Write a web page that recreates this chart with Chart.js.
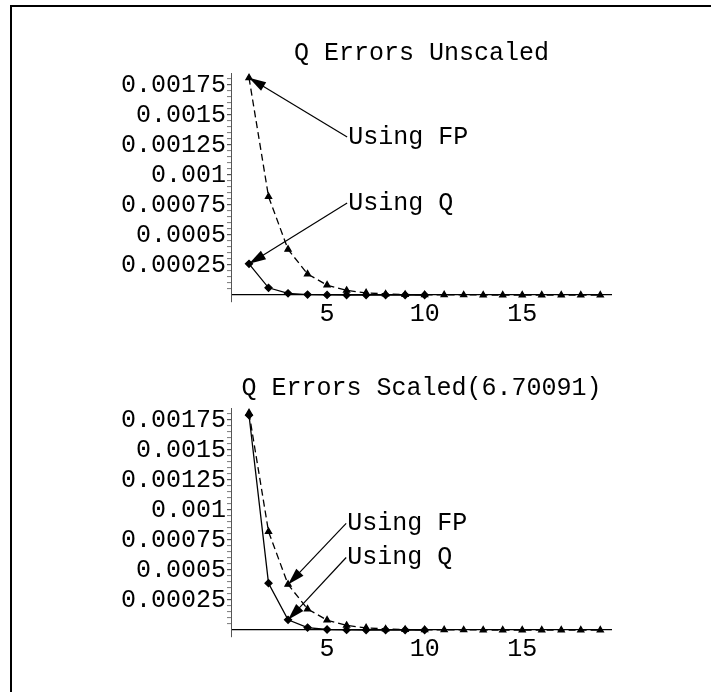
<!DOCTYPE html>
<html>
<head>
<meta charset="utf-8">
<script src="https://cdn.jsdelivr.net/npm/chart.js@4"></script>
<style>
  body { margin: 0; background: #fff; }
  #page { position: relative; width: 711px; height: 692px; overflow: hidden; background: #fff; }
  #frame { position: absolute; left: 10px; top: 5px; right: -10px; bottom: -10px;
           border-left: 2px solid #000; border-top: 2px solid #000; }
  canvas { position: absolute; left: 0; }
</style>
</head>
<body>
<div id="page">
  <div id="frame"></div>
  <canvas id="chartTop" width="711" height="340" style="top:0"></canvas>
  <canvas id="chartBottom" width="711" height="340" style="top:335px"></canvas>
</div>
<script>
/** DATA */

const steps = [1, 2, 3, 4, 5, 6, 7, 8, 9, 10, 11, 12, 13, 14, 15, 16, 17, 18, 19];
const fpErrors = [0.00181, 0.00082, 0.00038, 0.000175, 0.000082, 0.000038, 0.000018, 0.0000085,
    0.000004, 0.0000019, 0.0000009, 0.0000004, 0.0000002, 0.0000001, 0.00000005, 0.00000002,
    0.00000001, 0.000000005, 0.000000002];
const qErrorsUnscaled = [0.00026, 0.00006, 0.000014, 0.0000035, 0.0000009, 0.0000002, 0.00000005,
    0.00000001, 0.000000003, 0.000000001];
const qErrorsScaled = [0.00179, 0.00039, 0.000085, 0.00002, 0.0000042, 0.0000009, 0.0000002,
    0.00000004, 0.00000001, 0.000000002];

const xTickValues = [5, 10, 15];
const yTickValues = [0.00025, 0.0005, 0.00075, 0.001, 0.00125, 0.0015, 0.00175];
const yTickLabels = ['0.00025', '0.0005', '0.00075', '0.001', '0.00125', '0.0015', '0.00175'];

const titles = ['Q Errors Unscaled', 'Q Errors Scaled(6.70091)'];
const noteLabels = ['Using FP', 'Using Q'];

/** CHART */

const FONT = '25px "Liberation Mono", "DejaVu Sans Mono", monospace';

const toPoints = (values) => values.map((v, i) => ({ x: steps[i], y: v }));

const decorations = {
    id: 'decorations',
    afterDatasetsDraw(chart, args, opts) {
        const { ctx, chartArea, scales: { x, y } } = chart;
        ctx.save();
        ctx.fillStyle = '#000';
        ctx.strokeStyle = '#000';
        ctx.lineWidth = 1.2;
        ctx.font = FONT;
        ctx.textAlign = 'center';
        ctx.textBaseline = 'middle';
        ctx.fillText(opts.title, (chartArea.left + chartArea.right) / 2, chartArea.top - 20);

        ctx.textAlign = 'left';
        opts.notes.forEach(n => {
            const pt = chart.data.datasets[n.dataset].data[n.index];
            const tx = x.getPixelForValue(pt.x);
            const ty = y.getPixelForValue(pt.y);
            const sx = x.getPixelForValue(n.x);
            const sy = y.getPixelForValue(n.y);
            ctx.fillText(n.text, sx, sy);

            const ang = Math.atan2(ty - sy, tx - sx);
            const cos = Math.cos(ang), sin = Math.sin(ang);
            const len = 17, half = 5;
            ctx.beginPath();
            ctx.moveTo(sx - 1, sy);
            ctx.lineTo(tx - cos * (len - 2), ty - sin * (len - 2));
            ctx.stroke();
            ctx.beginPath();
            ctx.moveTo(tx, ty);
            ctx.lineTo(tx - len * cos + half * sin, ty - len * sin - half * cos);
            ctx.lineTo(tx - len * cos - half * sin, ty - len * sin + half * cos);
            ctx.closePath();
            ctx.fill();
        });
        ctx.restore();
    }
};

const isMajor = (v) => yTickValues.some(t => Math.abs(t - v) < 1e-9);

const chartOptions = (title, notes) => {
    return {
        responsive: false,
        animation: false,
        layout: { padding: { left: 121, right: 99, top: 73, bottom: 8 } },
        plugins: {
            legend: { display: false },
            tooltip: { enabled: false },
            decorations: { title, notes }
        },
        scales: {
            x: {
                type: 'linear',
                min: 0.077,
                max: 19.6,
                afterFit: (scale) => { scale.height = 30; },
                afterBuildTicks: (scale) => { scale.ticks = xTickValues.map(v => ({ value: v })); },
                grid: { display: false },
                border: { display: false },
                ticks: { color: '#000', font: { family: '"Liberation Mono", monospace', size: 25 }, padding: -11, maxRotation: 0 }
            },
            y: {
                min: -0.0000583,
                max: 0.00185,
                afterFit: (scale) => { scale.width = 110; },
                afterBuildTicks: (scale) => {
                    const ticks = [];
                    for (let i = 0; i <= 36; i++) ticks.push({ value: i * 0.00005 });
                    scale.ticks = ticks;
                },
                border: { display: true, color: '#555', width: 1 },
                grid: {
                    drawOnChartArea: true,
                    drawTicks: true,
                    tickLength: 4,
                    color: (c) => c.tick && c.tick.value === 0 ? '#000' : 'rgba(0,0,0,0)',
                    lineWidth: 1.2,
                    tickColor: (c) => c.tick && c.tick.value === 0 ? 'rgba(0,0,0,0)' : '#555',
                    tickWidth: (c) => c.tick && isMajor(c.tick.value) ? 1.2 : 0.8
                },
                ticks: {
                    autoSkip: false,
                    color: '#000',
                    padding: 1,
                    font: { family: '"Liberation Mono", monospace', size: 25 },
                    callback: (v) => {
                        const i = yTickValues.findIndex(t => Math.abs(t - v) < 1e-9);
                        return i >= 0 ? yTickLabels[i] : '';
                    }
                }
            }
        }
    };
};

const chartData = (qValues) => {
    return {
        datasets: [
            {
                label: noteLabels[1],
                data: toPoints(qValues),
                borderColor: '#000',
                backgroundColor: '#000',
                borderWidth: 1.3,
                pointStyle: 'rectRot',
                pointRadius: 3.5,
                tension: 0
            },
            {
                label: noteLabels[0],
                data: toPoints(fpErrors),
                borderColor: '#000',
                backgroundColor: '#000',
                borderWidth: 1.3,
                borderDash: [7, 4],
                pointStyle: 'triangle',
                pointRadius: 3.5,
                tension: 0
            }
        ]
    };
};

const lineChart = (id, qValues, title, notes) => {
    new Chart(document.getElementById(id), {
        type: 'line',
        data: chartData(qValues),
        options: chartOptions(title, notes),
        plugins: [decorations]
    });
};

lineChart('chartTop', qErrorsUnscaled, titles[0], [
    { text: noteLabels[0], dataset: 1, index: 0, x: 6.08, y: 0.001317 },
    { text: noteLabels[1], dataset: 0, index: 0, x: 6.08, y: 0.000767 }
]);

lineChart('chartBottom', qErrorsScaled, titles[1], [
    { text: noteLabels[0], dataset: 1, index: 2, x: 6.03, y: 0.000888 },
    { text: noteLabels[1], dataset: 0, index: 2, x: 6.03, y: 0.000604 }
]);
</script>
</body>
</html>
